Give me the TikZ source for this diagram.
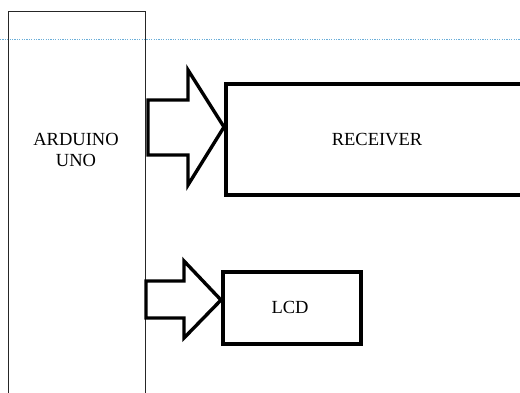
\documentclass[tikz,border=0pt]{standalone}
\usepackage{fontspec}
\setmainfont{Liberation Serif}
\definecolor{guide}{HTML}{6AAED8}
\begin{document}
\begin{tikzpicture}[x=1pt,y=-1pt,
  thinbox/.style={draw=black!85,line width=1.3pt,rectangle,inner sep=0pt},
  thickbox/.style={draw=black,line width=3.8pt,rectangle,inner sep=0pt},
  blockarrow/.style={draw=black,line width=3.4pt,fill=white,line join=miter},
  lbl/.style={font=\fontsize{18.5}{21}\selectfont,align=center,inner sep=0pt}]
\useasboundingbox (0,0) rectangle (520,392);
\fill[white] (0,0) rectangle (520,392);
% dotted guide line
\draw[guide,line width=0.6pt,dash pattern=on 1.2pt off 1.2pt] (0,39.5) -- (520,39.5);
% boxes
\node[thinbox,minimum width=137pt,minimum height=420pt,anchor=north west] (ard) at (7.5,10.5) {};
\node[thickbox,minimum width=330pt,minimum height=111pt,anchor=north west] (rec) at (224,82) {};
\node[thickbox,minimum width=138pt,minimum height=72pt,anchor=north west] (lcd) at (221,270) {};
% labels
\node[lbl] (ardl) at (76,150) {ARDUINO\\UNO};
\node[lbl] (recl) at (377,140) {RECEIVER};
\node[lbl] (lcdl) at (290,307) {LCD};
% block arrows
\coordinate (a1) at (rec.west |- 0,127);
\draw[blockarrow] (148,100) -- (188,100) -- (188,70) -- (a1) -- (188,185) -- (188,155) -- (148,155) -- cycle;
\coordinate (a2) at (lcd.west |- 0,300);
\draw[blockarrow] (146,281) -- (184,281) -- (184,261) -- (a2) -- (184,338) -- (184,318) -- (146,318) -- cycle;
\end{tikzpicture}
\end{document}
